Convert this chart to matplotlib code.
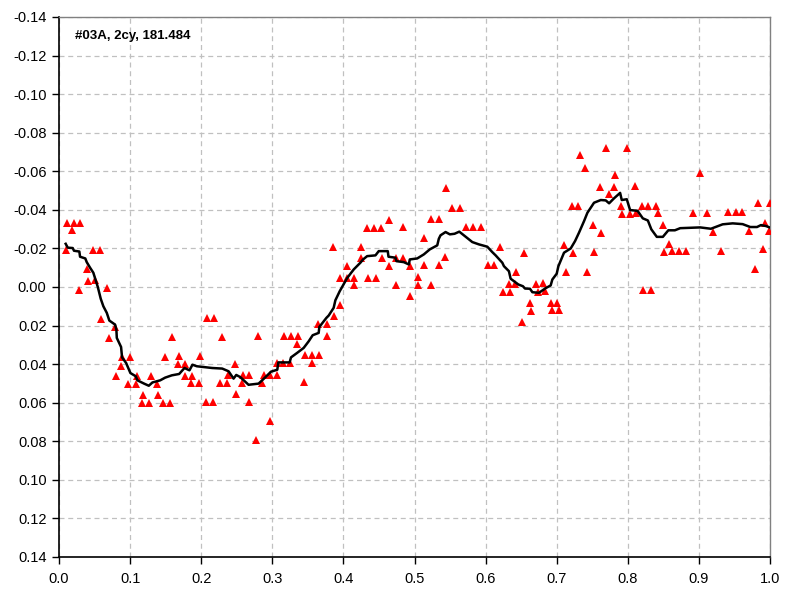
import matplotlib
matplotlib.use("Agg")
import matplotlib.pyplot as plt
import numpy as np

plt.rcParams['font.family'] = ['Liberation Sans', 'DejaVu Sans']

# Measured points (red triangles)
pts_x = [0.0099, 0.0108, 0.0187, 0.0211, 0.0286, 0.0300, 0.0390, 0.0413, 0.0475, 0.0507,
         0.0577, 0.0592, 0.0680, 0.0708, 0.0793, 0.0807, 0.0873, 0.0887, 0.0976, 0.1000,
         0.1085, 0.1103, 0.1173, 0.1187, 0.1272, 0.1300, 0.1380, 0.1390, 0.1469, 0.1493,
         0.1563, 0.1596, 0.1672, 0.1694, 0.1775, 0.1775, 0.1859, 0.1877, 0.1976, 0.1986,
         0.2066, 0.2080, 0.2159, 0.2173, 0.2268, 0.2286, 0.2366, 0.2380, 0.2469, 0.2493,
         0.2568, 0.2582, 0.2666, 0.2676, 0.2765, 0.2793, 0.2849, 0.2877, 0.2962, 0.2972,
         0.3066, 0.3070, 0.3151, 0.3169, 0.3254, 0.3268, 0.3352, 0.3366, 0.3441, 0.3465,
         0.3554, 0.3563, 0.3648, 0.3652, 0.3765, 0.3765, 0.3849, 0.3863, 0.3948, 0.3948,
         0.4046, 0.4046, 0.4145, 0.4155, 0.4244, 0.4244, 0.4334, 0.4342, 0.4437, 0.4455,
         0.4535, 0.4539, 0.4638, 0.4638, 0.4737, 0.4746, 0.4835, 0.4835, 0.4934, 0.4934,
         0.5046, 0.5046, 0.5131, 0.5131, 0.5230, 0.5230, 0.5342, 0.5342, 0.5423, 0.5441,
         0.5525, 0.5638, 0.5718, 0.5821, 0.5930, 0.6028, 0.6117, 0.6201, 0.6244, 0.6328,
         0.6342, 0.6413, 0.6427, 0.6511, 0.6539, 0.6624, 0.6638, 0.6708, 0.6737, 0.6807,
         0.6835, 0.6915, 0.6930, 0.7004, 0.7028, 0.7103, 0.7131, 0.7211, 0.7225, 0.7300,
         0.7328, 0.7394, 0.7427, 0.7511, 0.7521, 0.7610, 0.7624, 0.7694, 0.7732, 0.7807,
         0.7821, 0.7906, 0.7920, 0.7990, 0.8032, 0.8103, 0.8117, 0.8201, 0.8215, 0.8289,
         0.8328, 0.8399, 0.8427, 0.8497, 0.8511, 0.8582, 0.8624, 0.8723, 0.8821, 0.8920,
         0.9018, 0.9113, 0.9201, 0.9314, 0.9413, 0.9521, 0.9610, 0.9708, 0.9793, 0.9835,
         0.9901, 0.9930, 0.9990, 1.0000]
pts_y = [-0.0193, -0.0333, -0.0293, -0.0333, 0.0013, -0.0333, -0.0095, -0.0030, -0.0193, -0.0035,
         -0.0193, 0.0165, 0.0004, 0.0264, 0.0207, 0.0461, 0.0408, 0.0365, 0.0503, 0.0365,
         0.0503, 0.0461, 0.0604, 0.0560, 0.0604, 0.0461, 0.0503, 0.0560, 0.0604, 0.0363,
         0.0604, 0.0259, 0.0401, 0.0357, 0.0401, 0.0461, 0.0500, 0.0461, 0.0500, 0.0357,
         0.0596, 0.0160, 0.0596, 0.0160, 0.0500, 0.0259, 0.0500, 0.0455, 0.0399, 0.0555,
         0.0498, 0.0458, 0.0596, 0.0458, 0.0794, 0.0256, 0.0498, 0.0458, 0.0697, 0.0458,
         0.0394, 0.0458, 0.0394, 0.0256, 0.0394, 0.0256, 0.0295, 0.0256, 0.0492, 0.0354,
         0.0394, 0.0354, 0.0191, 0.0354, 0.0191, 0.0256, -0.0209, 0.0152, 0.0094, -0.0048,
         -0.0048, -0.0108, -0.0009, -0.0048, -0.0152, -0.0209, -0.0305, -0.0048, -0.0305, -0.0048,
         -0.0305, -0.0152, -0.0347, -0.0108, -0.0009, -0.0152, -0.0313, -0.0152, -0.0108, 0.0048,
         -0.0053, -0.0009, -0.0253, -0.0115, -0.0354, -0.0009, -0.0354, -0.0115, -0.0157, -0.0515,
         -0.0411, -0.0411, -0.0313, -0.0313, -0.0313, -0.0114, -0.0114, -0.0209, 0.0025, -0.0017,
         0.0025, -0.0017, -0.0079, 0.0181, -0.0178, 0.0082, 0.0124, -0.0017, 0.0025, -0.0022,
         0.0020, 0.0082, 0.0120, 0.0082, 0.0120, -0.0218, -0.0079, -0.0422, -0.0178, -0.0422,
         -0.0683, -0.0619, -0.0079, -0.0323, -0.0183, -0.0520, -0.0282, -0.0723, -0.0482, -0.0520,
         -0.0582, -0.0422, -0.0379, -0.0723, -0.0379, -0.0525, -0.0384, -0.0422, 0.0015, -0.0422,
         0.0015, -0.0422, -0.0384, -0.0323, -0.0183, -0.0223, -0.0188, -0.0188, -0.0188, -0.0385,
         -0.0590, -0.0385, -0.0287, -0.0188, -0.0390, -0.0390, -0.0390, -0.0292, -0.0091, -0.0434,
         -0.0195, -0.0333, -0.0290, -0.0434]

# Smoothed curve (black line)
line_x = [0.0094, 0.0123, 0.0193, 0.0211, 0.0286, 0.0296, 0.0370, 0.0390, 0.0437, 0.0483,
          0.0545, 0.0587, 0.0624, 0.0672, 0.0708, 0.0789, 0.0807, 0.0813, 0.0873, 0.0887,
          0.0944, 0.1004, 0.1080, 0.1103, 0.1197, 0.1263, 0.1314, 0.1423, 0.1493, 0.1587,
          0.1690, 0.1765, 0.1835, 0.1877, 0.1939, 0.2155, 0.2296, 0.2385, 0.2455, 0.2493,
          0.2549, 0.2666, 0.2807, 0.2877, 0.2982, 0.3070, 0.3085, 0.3244, 0.3263, 0.3348,
          0.3441, 0.3511, 0.3568, 0.3652, 0.3662, 0.3761, 0.3793, 0.3863, 0.3887, 0.3948,
          0.4052, 0.4145, 0.4239, 0.4277, 0.4334, 0.4451, 0.4497, 0.4624, 0.4634, 0.4732,
          0.4746, 0.4849, 0.4920, 0.4934, 0.5038, 0.5131, 0.5215, 0.5320, 0.5342, 0.5366,
          0.5437, 0.5497, 0.5563, 0.5630, 0.5718, 0.5813, 0.5906, 0.6024, 0.6094, 0.6141,
          0.6235, 0.6258, 0.6328, 0.6352, 0.6461, 0.6525, 0.6554, 0.6624, 0.6658, 0.6751,
          0.6845, 0.6915, 0.6939, 0.7000, 0.7024, 0.7080, 0.7103, 0.7197, 0.7258, 0.7314,
          0.7385, 0.7432, 0.7525, 0.7620, 0.7690, 0.7737, 0.7807, 0.7892, 0.7915, 0.7986,
          0.8032, 0.8137, 0.8211, 0.8282, 0.8331, 0.8408, 0.8493, 0.8570, 0.8662, 0.8737,
          0.9018, 0.9169, 0.9334, 0.9475, 0.9615, 0.9723, 0.9817, 0.9873, 0.9944, 1.0000]
line_y = [-0.0224, -0.0204, -0.0202, -0.0188, -0.0184, -0.0157, -0.0148, -0.0129, -0.0100, -0.0074,
          -0.0001, 0.0061, 0.0100, 0.0134, 0.0174, 0.0195, 0.0221, 0.0264, 0.0311, 0.0365,
          0.0394, 0.0446, 0.0463, 0.0484, 0.0501, 0.0512, 0.0495, 0.0484, 0.0470, 0.0458,
          0.0451, 0.0420, 0.0432, 0.0403, 0.0411, 0.0420, 0.0423, 0.0437, 0.0475, 0.0456,
          0.0467, 0.0507, 0.0501, 0.0477, 0.0439, 0.0429, 0.0391, 0.0391, 0.0365, 0.0342,
          0.0316, 0.0282, 0.0250, 0.0238, 0.0207, 0.0160, 0.0148, 0.0108, 0.0069, 0.0022,
          -0.0046, -0.0091, -0.0126, -0.0143, -0.0160, -0.0164, -0.0186, -0.0186, -0.0157, -0.0152,
          -0.0134, -0.0129, -0.0117, -0.0143, -0.0148, -0.0169, -0.0195, -0.0216, -0.0250, -0.0268,
          -0.0285, -0.0273, -0.0276, -0.0287, -0.0261, -0.0233, -0.0221, -0.0209, -0.0181, -0.0164,
          -0.0126, -0.0108, -0.0082, -0.0043, -0.0013, -0.0004, 0.0008, 0.0009, 0.0027, 0.0030,
          0.0006, -0.0008, -0.0039, -0.0069, -0.0108, -0.0157, -0.0178, -0.0200, -0.0238, -0.0282,
          -0.0342, -0.0385, -0.0437, -0.0451, -0.0449, -0.0434, -0.0460, -0.0488, -0.0451, -0.0455,
          -0.0399, -0.0395, -0.0356, -0.0345, -0.0299, -0.0260, -0.0260, -0.0294, -0.0294, -0.0305,
          -0.0309, -0.0302, -0.0325, -0.0330, -0.0326, -0.0311, -0.0311, -0.0321, -0.0316, -0.0308]

title_text = "#03A, 2cy, 181.484"
x_ticks = [0.0, 0.1, 0.2, 0.3, 0.4, 0.5, 0.6, 0.7, 0.8, 0.9, 1.0]
y_ticks = [-0.14, -0.12, -0.10, -0.08, -0.06, -0.04, -0.02, 0.00, 0.02, 0.04, 0.06, 0.08, 0.10, 0.12, 0.14]

fig = plt.figure(figsize=(7.89, 6.04), dpi=100)
ax = fig.add_axes([59/789, 47/604, 711/789, 540/604])

ax.plot(pts_x, pts_y, linestyle='none', marker='^', color='#ff0000',
        markersize=5.8, markeredgewidth=0, zorder=3)
ax.plot(line_x, line_y, color='black', linewidth=1.8, zorder=4)

ax.set_xlim(0, 1)
ax.set_ylim(0.14, -0.14)
ax.set_xticks(x_ticks)
ax.set_yticks(y_ticks)
ax.set_xticklabels([f"{v:.1f}" for v in x_ticks])
ax.set_yticklabels([f"{v:.2f}" if abs(v) > 1e-9 else "0.00" for v in y_ticks])
ax.tick_params(axis='both', direction='out', length=5, width=1, color='black',
               labelsize=10.5)
ax.tick_params(axis='x', pad=6)
ax.tick_params(axis='y', pad=4)
ax.grid(True, color='#c0c0c0', linestyle=(0, (4, 3)), linewidth=0.9)
ax.set_axisbelow(True)

for s in ['top', 'right']:
    ax.spines[s].set_color('#808080')
    ax.spines[s].set_linewidth(1)
for s in ['left', 'bottom']:
    ax.spines[s].set_color('black')
    ax.spines[s].set_linewidth(1.2)

ax.text(0.023, 0.975, title_text, transform=ax.transAxes, ha='left', va='top',
        fontsize=9.5, fontweight='bold')

fig.savefig('out.png', dpi=100)
